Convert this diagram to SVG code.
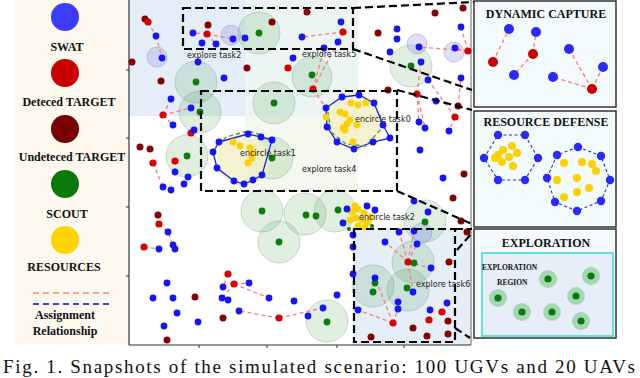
<svg xmlns="http://www.w3.org/2000/svg" width="640" height="378" viewBox="0 0 640 378">
<style>
.b{fill:#1414ff}.r{fill:#dc0000}.d{fill:#870000}.g{fill:#0a7d0a}.y{fill:#ffd000}
.h{fill:#2e8b2e;fill-opacity:.14;stroke:#7a9a7a;stroke-opacity:.35;stroke-width:1}
.bh{fill:#7f7fe8;fill-opacity:.25;stroke:#8888bb;stroke-opacity:.4}
.yh{fill:#f2f0c8;fill-opacity:.85}
.pk{stroke:#ff7a7a;stroke-width:1.3;stroke-dasharray:4 3;fill:none}
.bx{fill:none;stroke:#000;stroke-width:2.2;stroke-dasharray:8 4}
.zl{fill:none;stroke:#000;stroke-width:2.2;stroke-dasharray:8 4}
.lab{font-family:"DejaVu Sans",sans-serif;font-size:8px;fill:#222}
.lg{font-family:"Liberation Serif",serif;font-weight:bold;font-size:12px;fill:#111;text-anchor:middle}
.pt{font-family:"Liberation Serif",serif;font-weight:bold;font-size:12px;fill:#111;text-anchor:middle}
.pn{fill:#f3fbfc;stroke:#333;stroke-width:1.5}
.bp{fill:none;stroke:#2020ee;stroke-width:1.3}
.gp{fill:none;stroke:#4a9a3a;stroke-width:1.4;stroke-dasharray:4 3}
.hp{fill:none;stroke:#2a2ae0;stroke-width:1.1;stroke-dasharray:3 2.5}
</style>

<!-- legend -->
<g id="legend">
<rect x="15" y="0" width="114" height="344" fill="#fdf9ef"/>
<circle cx="65" cy="17" r="14" fill="#3c3cff"/>
<text class="lg" x="67" y="51">SWAT</text>
<circle cx="65" cy="73" r="14" fill="#c80000"/>
<text class="lg" x="69" y="106">Deteced TARGET</text>
<circle cx="65" cy="129" r="14" fill="#780000"/>
<text class="lg" x="72" y="161">Undeteced TARGET</text>
<circle cx="65" cy="184" r="14" fill="#0a780a"/>
<text class="lg" x="67" y="218">SCOUT</text>
<circle cx="65" cy="240" r="14" fill="#ffd400"/>
<text class="lg" x="64" y="271">RESOURCES</text>
<line x1="33" y1="293" x2="110" y2="293" stroke="#ff8080" stroke-width="1.6" stroke-dasharray="6 4"/>
<line x1="33" y1="304" x2="110" y2="304" stroke="#0000ee" stroke-width="1.6" stroke-dasharray="6 4"/>
<text class="lg" x="65" y="319">Assignment</text>
<text class="lg" x="65" y="335">Relationship</text>
</g>

<!-- main plot -->
<g id="plot">
<rect x="129" y="0" width="342" height="345" fill="#fff"/>
<rect x="129" y="0" width="116" height="116" fill="#e4eef8"/>
<rect x="245" y="0" width="113" height="116" fill="#ecf5f3"/>
<rect x="245" y="116" width="113" height="76" fill="#f5f8ee"/>
<rect x="353" y="228" width="118" height="117" fill="#e6eef8"/>
<line x1="471" y1="0" x2="471" y2="345" stroke="#666" stroke-width="1"/>
<line x1="129" y1="0" x2="129" y2="345" stroke="#333" stroke-width="1.2"/>
<line x1="129" y1="345" x2="471" y2="345" stroke="#333" stroke-width="1.2"/>
<g stroke="#333" stroke-width="1">
<line x1="126" y1="70" x2="129" y2="70"/><line x1="126" y1="138" x2="129" y2="138"/>
<line x1="126" y1="207" x2="129" y2="207"/><line x1="126" y1="276" x2="129" y2="276"/>
<line x1="199" y1="345" x2="199" y2="348"/><line x1="267" y1="345" x2="267" y2="348"/>
<line x1="337" y1="345" x2="337" y2="348"/><line x1="404" y1="345" x2="404" y2="348"/>
</g>

<g id="halos">
<circle class="h" cx="259" cy="33" r="21"/><circle class="h" cx="196" cy="82" r="21"/>
<circle class="h" cx="200" cy="112" r="21"/><circle class="h" cx="274" cy="103" r="21"/>
<circle class="h" cx="312" cy="77" r="20"/><circle class="h" cx="411" cy="66" r="21"/>
<circle class="h" cx="187" cy="156" r="21"/><circle class="h" cx="272" cy="158" r="21"/>
<circle class="h" cx="262" cy="211" r="21"/><circle class="h" cx="279" cy="242" r="21"/>
<circle class="h" cx="305" cy="214" r="21"/><circle class="h" cx="335" cy="211" r="21"/>
<circle class="h" cx="425" cy="221" r="21"/><circle class="h" cx="413" cy="262" r="21"/>
<circle class="h" cx="373" cy="286" r="21"/><circle class="h" cx="408" cy="290" r="21"/>
<circle class="h" cx="327" cy="321" r="21"/>
<circle class="bh" cx="157" cy="57" r="10"/><circle class="bh" cx="231" cy="35" r="10"/>
<circle class="bh" cx="417" cy="44" r="10"/><circle class="bh" cx="454" cy="52" r="10"/>
<circle class="bh" cx="422" cy="233" r="10"/>
<circle class="yh" cx="355" cy="122" r="27"/><circle class="yh" cx="243" cy="160" r="26"/>
</g>

<g id="connectors">
<path class="pk" d="M148 22L156 36M156 36L162 58M207 34L193 33M207 34L202 43M207 34L216 44M207 34L233 39M163 115L171 99M163 115L191 108M163 115L173 125M288 68L293 58M343 32L302 37M343 32L341 22M343 32L338 42M313 89L324 48M313 89L338 42M313 89L326 108M468 51L461 27M468 51L455 48M468 51L419 47M417 94L421 62M417 94L419 122M417 94L425 128M455 117L428 80M455 117L449 131M458 106L461 78M153 163L163 187M175 161L175 172M159 224L168 232L173 245M144 247L159 249M234 284L269 298M234 284L249 283M234 284L222 298M228 274L223 287M279 318L239 311M279 318L323 308M408 262L399 232M408 262L414 231M408 262L385 242M408 262L417 244M408 262L431 268M408 262L413 292M393 323L375 278M393 323L358 310M393 323L398 309M442 312L447 303M429 320L430 310"/>
<polygon class="bp" points="342,97 359,95 374,103 383,125 390,138 373,142 354,149 337,142 327,127 326,108"/>
<polyline class="gp" points="328,112 331,132 346,144 366,146 381,129"/>
<polygon class="bp" points="219,142 248,134 261,137 272,140 262,175 253,180 244,184 234,181 217,168 213,152"/>
<polyline class="gp" points="214,150 226,137 248,131 262,135"/>
</g>

<g id="yellow">
<circle class="y" cx="351" cy="103" r="3.4"/><circle class="y" cx="358" cy="105" r="3.4"/><circle class="y" cx="366" cy="103" r="3.4"/>
<circle class="y" cx="340" cy="112" r="3.4"/><circle class="y" cx="345" cy="114" r="3.4"/><circle class="y" cx="326" cy="117" r="3.4"/>
<circle class="y" cx="350" cy="120" r="3.4"/><circle class="y" cx="347" cy="124" r="3.4"/><circle class="y" cx="343" cy="128" r="3.4"/>
<circle class="y" cx="357" cy="125" r="3.4"/><circle class="y" cx="345" cy="130" r="3.4"/><circle class="y" cx="353" cy="142" r="3.4"/>
<circle class="y" cx="233" cy="142" r="3.4"/><circle class="y" cx="240" cy="146" r="3.4"/><circle class="y" cx="250" cy="148" r="3.4"/>
<circle class="y" cx="253" cy="153" r="3.4"/><circle class="y" cx="252" cy="158" r="3.4"/><circle class="y" cx="248" cy="163" r="3.4"/>
<circle class="y" cx="352" cy="212" r="3.6"/><circle class="y" cx="358" cy="209" r="3.6"/><circle class="y" cx="364" cy="213" r="3.6"/>
<circle class="y" cx="356" cy="218" r="3.6"/><circle class="y" cx="362" cy="220" r="3.6"/><circle class="y" cx="368" cy="222" r="3.6"/>
<circle class="y" cx="350" cy="220" r="3.6"/><circle class="y" cx="358" cy="226" r="3.6"/><circle class="y" cx="365" cy="227" r="3.6"/>
<circle class="y" cx="371" cy="217" r="3.6"/><circle class="y" cx="355" cy="206" r="3.6"/>
</g>

<g id="scouts">
<circle class="g" cx="259" cy="33" r="3.4"/><circle class="g" cx="196" cy="82" r="3.4"/><circle class="g" cx="200" cy="112" r="3.4"/>
<circle class="g" cx="274" cy="103" r="3.4"/><circle class="g" cx="312" cy="75" r="3.4"/><circle class="g" cx="411" cy="66" r="3.4"/>
<circle class="g" cx="187" cy="156" r="3.4"/><circle class="g" cx="272" cy="158" r="3.4"/><circle class="g" cx="262" cy="211" r="3.4"/>
<circle class="g" cx="279" cy="242" r="3.4"/><circle class="g" cx="306" cy="215" r="3.4"/><circle class="g" cx="316" cy="216" r="3.4"/>
<circle class="g" cx="338" cy="210" r="3.4"/><circle class="g" cx="425" cy="222" r="3.4"/><circle class="g" cx="414" cy="263" r="3.4"/>
<circle class="g" cx="375" cy="283" r="3.4"/><circle class="g" cx="373" cy="292" r="3.4"/><circle class="g" cx="407" cy="288" r="3.4"/>
<circle class="g" cx="327" cy="322" r="3.4"/>
<circle class="g" cx="349" cy="229" r="2"/><circle class="g" cx="372" cy="226" r="2"/>
</g>

<g id="targets">
<circle class="d" cx="145" cy="19" r="3.5"/><circle class="d" cx="208" cy="25" r="3.5"/><circle class="d" cx="272" cy="22" r="3.5"/>
<circle class="d" cx="132" cy="62" r="3.5"/><circle class="d" cx="161" cy="81" r="3.5"/><circle class="d" cx="247" cy="68" r="3.5"/>
<circle class="d" cx="140" cy="147" r="3.5"/><circle class="d" cx="150" cy="149" r="3.5"/><circle class="d" cx="307" cy="12" r="3.5"/>
<circle class="d" cx="378" cy="33" r="3.5"/><circle class="d" cx="435" cy="13" r="3.5"/><circle class="d" cx="463" cy="8" r="3.5"/>
<circle class="d" cx="388" cy="90" r="3.5"/><circle class="d" cx="458" cy="106" r="3.5"/><circle class="d" cx="464" cy="174" r="3.5"/>
<circle class="d" cx="453" cy="198" r="3.5"/><circle class="d" cx="461" cy="221" r="3.5"/><circle class="d" cx="467" cy="232" r="3.5"/>
<circle class="d" cx="158" cy="215" r="3.5"/><circle class="d" cx="195" cy="297" r="3.5"/><circle class="d" cx="223" cy="318" r="3.5"/>
<circle class="d" cx="167" cy="340" r="3.5"/><circle class="d" cx="449" cy="262" r="3.5"/><circle class="d" cx="371" cy="337" r="3.5"/>
<circle class="d" cx="413" cy="328" r="3.5"/><circle class="d" cx="427" cy="336" r="3.5"/><circle class="d" cx="448" cy="321" r="3.5"/>
<circle class="d" cx="448" cy="334" r="3.5"/>
<circle class="r" cx="148" cy="22" r="3.6"/><circle class="r" cx="207" cy="34" r="3.6"/><circle class="r" cx="163" cy="115" r="3.6"/>
<circle class="r" cx="191" cy="133" r="3.6"/><circle class="r" cx="288" cy="68" r="3.6"/><circle class="r" cx="343" cy="32" r="3.6"/>
<circle class="r" cx="313" cy="89" r="3.6"/><circle class="r" cx="468" cy="51" r="3.6"/><circle class="r" cx="417" cy="94" r="3.6"/>
<circle class="r" cx="455" cy="117" r="3.6"/><circle class="r" cx="153" cy="163" r="3.6"/><circle class="r" cx="175" cy="161" r="3.6"/>
<circle class="r" cx="159" cy="224" r="3.6"/><circle class="r" cx="144" cy="247" r="3.6"/><circle class="r" cx="228" cy="274" r="3.6"/>
<circle class="r" cx="234" cy="284" r="3.6"/><circle class="r" cx="279" cy="318" r="3.6"/><circle class="r" cx="408" cy="262" r="3.6"/>
<circle class="r" cx="393" cy="323" r="3.6"/><circle class="r" cx="442" cy="312" r="3.6"/><circle class="r" cx="429" cy="320" r="3.6"/>
</g>

<g id="swat">
<circle class="b" cx="156" cy="36" r="3.4"/><circle class="b" cx="162" cy="58" r="3.4"/><circle class="b" cx="193" cy="33" r="3.4"/>
<circle class="b" cx="202" cy="43" r="3.4"/><circle class="b" cx="216" cy="44" r="3.4"/><circle class="b" cx="233" cy="39" r="3.4"/>
<circle class="b" cx="245" cy="38" r="3.4"/><circle class="b" cx="198" cy="62" r="3.4"/><circle class="b" cx="224" cy="78" r="3.4"/>
<circle class="b" cx="171" cy="99" r="3.4"/><circle class="b" cx="173" cy="125" r="3.4"/><circle class="b" cx="191" cy="108" r="3.4"/>
<circle class="b" cx="194" cy="130" r="3.4"/><circle class="b" cx="302" cy="37" r="3.4"/><circle class="b" cx="293" cy="58" r="3.4"/>
<circle class="b" cx="341" cy="22" r="3.4"/><circle class="b" cx="338" cy="42" r="3.4"/><circle class="b" cx="324" cy="48" r="3.4"/>
<circle class="b" cx="397" cy="29" r="3.4"/><circle class="b" cx="397" cy="39" r="3.4"/><circle class="b" cx="390" cy="52" r="3.4"/>
<circle class="b" cx="419" cy="47" r="3.4"/><circle class="b" cx="455" cy="48" r="3.4"/><circle class="b" cx="461" cy="27" r="3.4"/>
<circle class="b" cx="421" cy="62" r="3.4"/><circle class="b" cx="428" cy="80" r="3.4"/><circle class="b" cx="461" cy="78" r="3.4"/>
<circle class="b" cx="436" cy="101" r="3.4"/><circle class="b" cx="449" cy="131" r="3.4"/><circle class="b" cx="419" cy="122" r="3.4"/>
<circle class="b" cx="425" cy="128" r="3.4"/><circle class="b" cx="420" cy="150" r="3.4"/><circle class="b" cx="443" cy="178" r="3.4"/>
<circle class="b" cx="414" cy="201" r="3.4"/><circle class="b" cx="428" cy="212" r="3.4"/>
<circle class="b" cx="175" cy="172" r="3.4"/><circle class="b" cx="188" cy="177" r="3.4"/><circle class="b" cx="184" cy="184" r="3.4"/>
<circle class="b" cx="163" cy="187" r="3.4"/><circle class="b" cx="171" cy="190" r="3.4"/><circle class="b" cx="168" cy="232" r="3.4"/>
<circle class="b" cx="173" cy="245" r="3.4"/><circle class="b" cx="175" cy="249" r="3.4"/><circle class="b" cx="159" cy="249" r="3.4"/>
<circle class="b" cx="249" cy="283" r="3.4"/><circle class="b" cx="223" cy="287" r="3.4"/><circle class="b" cx="222" cy="298" r="3.4"/>
<circle class="b" cx="228" cy="300" r="3.4"/><circle class="b" cx="167" cy="283" r="3.4"/><circle class="b" cx="153" cy="298" r="3.4"/>
<circle class="b" cx="173" cy="298" r="3.4"/><circle class="b" cx="177" cy="313" r="3.4"/><circle class="b" cx="198" cy="322" r="3.4"/>
<circle class="b" cx="164" cy="326" r="3.4"/><circle class="b" cx="239" cy="311" r="3.4"/><circle class="b" cx="269" cy="298" r="3.4"/>
<circle class="b" cx="294" cy="301" r="3.4"/><circle class="b" cx="308" cy="316" r="3.4"/><circle class="b" cx="323" cy="308" r="3.4"/>
<circle class="b" cx="337" cy="295" r="3.4"/>
<circle class="b" cx="399" cy="232" r="3.4"/><circle class="b" cx="414" cy="231" r="3.4"/><circle class="b" cx="385" cy="242" r="3.4"/>
<circle class="b" cx="417" cy="244" r="3.4"/><circle class="b" cx="431" cy="268" r="3.4"/><circle class="b" cx="353" cy="247" r="3.4"/>
<circle class="b" cx="353" cy="274" r="3.4"/><circle class="b" cx="375" cy="278" r="3.4"/><circle class="b" cx="413" cy="292" r="3.4"/>
<circle class="b" cx="398" cy="302" r="3.4"/><circle class="b" cx="398" cy="309" r="3.4"/><circle class="b" cx="358" cy="310" r="3.4"/>
<circle class="b" cx="430" cy="310" r="3.4"/><circle class="b" cx="447" cy="303" r="3.4"/>
<circle class="b" cx="342" cy="97" r="3.4"/><circle class="b" cx="359" cy="95" r="3.4"/><circle class="b" cx="374" cy="103" r="3.4"/>
<circle class="b" cx="383" cy="125" r="3.4"/><circle class="b" cx="390" cy="138" r="3.4"/><circle class="b" cx="373" cy="142" r="3.4"/>
<circle class="b" cx="354" cy="149" r="3.4"/><circle class="b" cx="337" cy="142" r="3.4"/><circle class="b" cx="327" cy="127" r="3.4"/>
<circle class="b" cx="326" cy="108" r="3.4"/>
<circle class="b" cx="219" cy="142" r="3.4"/><circle class="b" cx="248" cy="134" r="3.4"/><circle class="b" cx="261" cy="137" r="3.4"/>
<circle class="b" cx="272" cy="140" r="3.4"/><circle class="b" cx="262" cy="175" r="3.4"/><circle class="b" cx="253" cy="180" r="3.4"/>
<circle class="b" cx="244" cy="184" r="3.4"/><circle class="b" cx="234" cy="181" r="3.4"/><circle class="b" cx="217" cy="168" r="3.4"/>
<circle class="b" cx="213" cy="152" r="3.4"/>
<circle class="b" cx="347" cy="209" r="3.4"/><circle class="b" cx="367" cy="206" r="3.4"/><circle class="b" cx="375" cy="210" r="3.4"/>
<circle class="b" cx="343" cy="223" r="3.4"/><circle class="b" cx="353" cy="235" r="3.4"/>
</g>

<g id="task-labels">
<text class="lab" x="187" y="58">explore task2</text>
<text class="lab" x="302" y="57">explore task5</text>
<text class="lab" x="355" y="122">encircle task0</text>
<text class="lab" x="240" y="156">encircle task1</text>
<text class="lab" x="302" y="172">explore task4</text>
<text class="lab" x="359" y="220">encircle task2</text>
<text class="lab" x="416" y="287">explore task6</text>
</g>

<g id="zoom-boxes">
<rect class="bx" x="183" y="8" width="170" height="41"/>
<rect class="bx" x="201" y="91" width="196" height="100"/>
<rect class="bx" x="354" y="229" width="101" height="113"/>
<path class="zl" d="M353 8L474 2M353 49L472 90M397 90L472 110M397 191L472 224M455 229L472 229M457 250L472 233M455 328L470 338"/>
</g>
</g>

<!-- panels -->
<g id="panel-capture">
<rect class="pn" x="474" y="1" width="142" height="106"/>
<text class="pt" x="546" y="18">DYNAMIC CAPTURE</text>
<path class="pk" d="M493 62L509 29M533 54L536 32M533 54L514 75M592 89L569 49M592 89L603 67M592 89L553 77"/>
<circle cx="509" cy="29" r="5" fill="#2a2aff"/><circle cx="536" cy="32" r="5" fill="#2a2aff"/>
<circle cx="514" cy="75" r="5" fill="#2a2aff"/><circle cx="569" cy="49" r="5" fill="#2a2aff"/>
<circle cx="603" cy="67" r="5" fill="#2a2aff"/><circle cx="553" cy="77" r="5" fill="#2a2aff"/>
<circle cx="493" cy="62" r="5" fill="#cc0000"/><circle cx="533" cy="54" r="5" fill="#cc0000"/>
<circle cx="592" cy="89" r="5" fill="#cc0000"/>
</g>

<g id="panel-defense">
<rect class="pn" x="474" y="111" width="142" height="116"/>
<text class="pt" x="546" y="126">RESOURCE DEFENSE</text>
<polygon class="hp" points="498,135 525,135 538,158 525,180 498,180 484,158"/>
<polygon class="hp" points="578,147 601,156 610,180 601,201 577,211 555,202 547,178 557,155"/>
<g fill="#ffd000">
<circle cx="503" cy="150" r="4"/><circle cx="512" cy="146" r="4"/><circle cx="517" cy="153" r="4"/>
<circle cx="495" cy="158" r="4"/><circle cx="509" cy="157" r="4"/><circle cx="502" cy="162" r="4"/>
<circle cx="513" cy="166" r="4"/><circle cx="498" cy="155" r="4"/>
<circle cx="564" cy="163" r="4"/><circle cx="582" cy="162" r="4"/><circle cx="592" cy="164" r="4"/>
<circle cx="596" cy="171" r="4"/><circle cx="557" cy="180" r="4"/><circle cx="577" cy="178" r="4"/>
<circle cx="589" cy="188" r="4"/><circle cx="577" cy="192" r="4"/><circle cx="564" cy="197" r="4"/>
</g>
<g fill="#2a2aff">
<circle cx="498" cy="135" r="4.2"/><circle cx="525" cy="135" r="4.2"/><circle cx="538" cy="158" r="4.2"/>
<circle cx="525" cy="180" r="4.2"/><circle cx="498" cy="180" r="4.2"/><circle cx="484" cy="158" r="4.2"/>
<circle cx="578" cy="147" r="4.2"/><circle cx="601" cy="156" r="4.2"/><circle cx="610" cy="180" r="4.2"/>
<circle cx="601" cy="201" r="4.2"/><circle cx="577" cy="211" r="4.2"/><circle cx="555" cy="202" r="4.2"/>
<circle cx="547" cy="178" r="4.2"/><circle cx="557" cy="155" r="4.2"/>
</g>
</g>

<g id="panel-exploration">
<rect class="pn" x="474" y="229" width="142" height="109"/>
<text class="pt" x="546" y="247">EXPLORATION</text>
<rect x="482" y="253" width="131" height="83" fill="#e8eef8" stroke="#3dd8d8" stroke-width="1.5"/>
<text x="482" y="270" font-family="Liberation Serif, serif" font-weight="bold" font-size="7.5" fill="#111">EXPLORATION</text>
<text x="497" y="285" font-family="Liberation Serif, serif" font-weight="bold" font-size="7.5" fill="#111">REGION</text>
<g fill="#8fcf9f" fill-opacity=".75">
<circle cx="548" cy="279" r="9"/><circle cx="591" cy="276" r="9"/><circle cx="498" cy="298" r="9"/>
<circle cx="576" cy="296" r="9"/><circle cx="522" cy="312" r="9"/><circle cx="552" cy="312" r="9"/>
<circle cx="581" cy="321" r="9"/>
</g>
<g fill="#0a7a0a">
<circle cx="548" cy="279" r="3.6"/><circle cx="591" cy="276" r="3.6"/><circle cx="498" cy="298" r="3.6"/>
<circle cx="576" cy="296" r="3.6"/><circle cx="522" cy="312" r="3.6"/><circle cx="552" cy="312" r="3.6"/>
<circle cx="581" cy="321" r="3.6"/>
</g>
</g>

<text x="3" y="373" font-family="Liberation Serif, serif" font-size="19" fill="#111" textLength="632" lengthAdjust="spacing">Fig. 1.  Snapshots of the simulated scenario: 100 UGVs and 20 UAVs</text>
</svg>
